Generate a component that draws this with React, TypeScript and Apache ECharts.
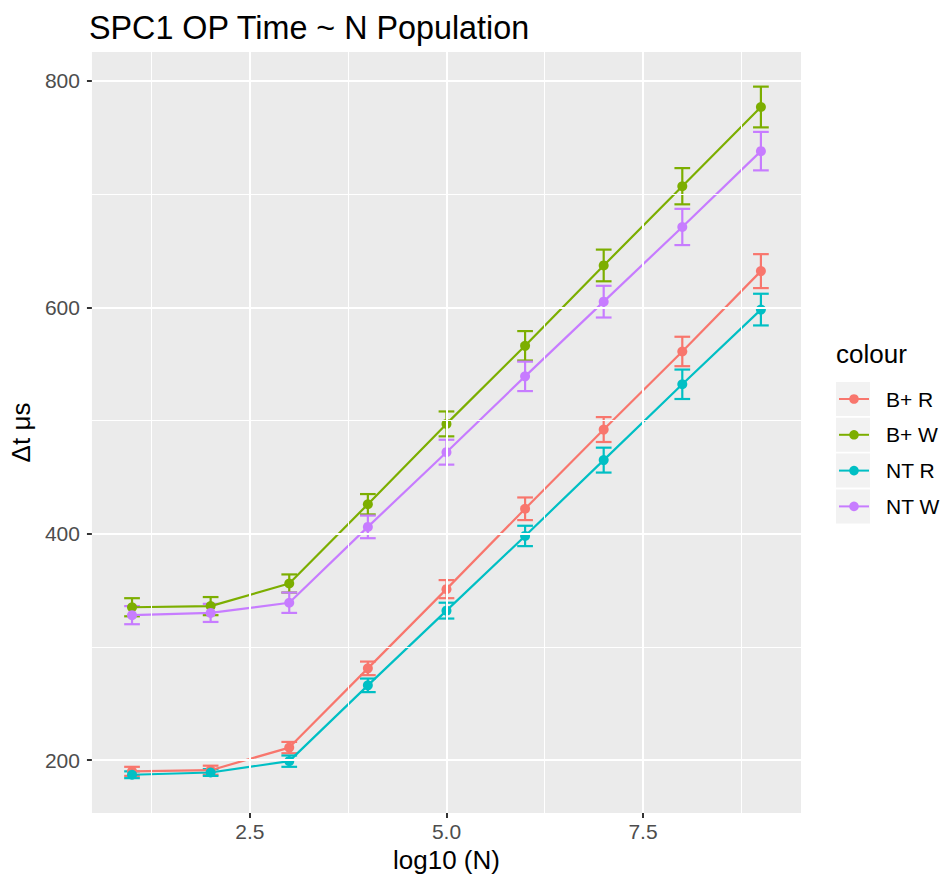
import React, { useEffect, useRef } from "react";
import * as echarts from "echarts";

// ---- data ----
const xValues = [1, 2, 3, 4, 5, 6, 7, 8, 9];
const seriesNames = ["B+ R", "B+ W", "NT R", "NT W"];
const bPlusR = [190, 191, 211, 281, 351, 422, 492, 561, 632];
const bPlusRErr = [4, 4, 5, 6, 8, 10, 11, 13, 15];
const bPlusW = [335, 336, 356, 426, 497, 566, 637, 707, 777];
const bPlusWErr = [8, 8, 8, 9, 11, 13, 14, 16, 18];
const ntR = [187, 189, 199, 266, 332, 398, 465, 532, 598];
const ntRErr = [3, 3, 5, 6, 7, 9, 11, 13, 14];
const ntW = [328, 330, 339, 406, 472, 539, 605, 671, 738];
const ntWErr = [8, 8, 9, 10, 11, 13, 14, 16, 17];
const xTicks = [2.5, 5, 7.5];
const xMinor = [1.25, 3.75, 6.25, 8.75];
const yTicks = [200, 400, 600, 800];
const yMinor = [300, 500, 700];

const colors = ["#F8766D", "#7CAE00", "#00BFC4", "#C77CFF"];
const FONT = "'Liberation Sans', Arial, Helvetica, sans-serif";

export default function App() {
  const ref = useRef<HTMLDivElement>(null);
  useEffect(() => {
    if (!ref.current) return;
    const chart = echarts.init(ref.current, null, { renderer: "svg" });
    const values = [bPlusR, bPlusW, ntR, ntW];
    const errs = [bPlusRErr, bPlusWErr, ntRErr, ntWErr];
    const ERR_W = 0.2;

    const lineSeries = seriesNames.map((name, i) => ({
      name,
      type: "line",
      data: xValues.map((x, j) => [x, values[i][j]]),
      symbol: "circle",
      symbolSize: 10,
      showSymbol: true,
      color: colors[i],
      itemStyle: { color: colors[i] },
      lineStyle: { color: colors[i], width: 2.2 },
      z: 4,
      silent: true,
    }));

    const errSeries = seriesNames.map((name, i) => ({
      name: name + " (error)",
      type: "custom",
      color: colors[i],
      data: xValues.map((x, j) => [x, values[i][j] - errs[i][j], values[i][j] + errs[i][j]]),
      renderItem: (params: any, api: any) => {
        const x = api.value(0);
        const lo = api.value(1);
        const hi = api.value(2);
        const top = api.coord([x, hi]);
        const bot = api.coord([x, lo]);
        const hw = api.size([ERR_W, 0])[0] / 2;
        const style = { stroke: colors[i], lineWidth: 2.2, fill: "none" };
        return {
          type: "group",
          children: [
            { type: "line", shape: { x1: top[0], y1: top[1], x2: bot[0], y2: bot[1] }, style },
            { type: "line", shape: { x1: top[0] - hw, y1: top[1], x2: top[0] + hw, y2: top[1] }, style },
            { type: "line", shape: { x1: bot[0] - hw, y1: bot[1], x2: bot[0] + hw, y2: bot[1] }, style },
          ],
        };
      },
      z: 3,
      silent: true,
    }));

    const gridSeries = {
      name: "panel grid",
      type: "line",
      data: [],
      silent: true,
      z: 1,
      markLine: {
        silent: true,
        symbol: "none",
        label: { show: false },
        animation: false,
        lineStyle: { color: "#FFFFFF", width: 2, type: "solid" },
        data: [
          ...xMinor.map((v) => ({ xAxis: v, lineStyle: { color: "#FFFFFF", width: 1, type: "solid" } })),
          ...yMinor.map((v) => ({ yAxis: v, lineStyle: { color: "#FFFFFF", width: 1, type: "solid" } })),
          ...xTicks.map((v) => ({ xAxis: v })),
          ...yTicks.map((v) => ({ yAxis: v })),
        ],
      },
    };

    chart.setOption({
      animation: false,
      backgroundColor: "#FFFFFF",
      textStyle: { fontFamily: FONT },
      title: {
        text: "SPC1 OP Time ~ N Population",
        left: 89,
        top: 12,
        padding: 0,
        textStyle: { fontSize: 32.3, fontWeight: "normal", color: "#000000", fontFamily: FONT },
      },
      grid: {
        left: 89,
        top: 52,
        width: 712,
        height: 761,
        show: true,
        backgroundColor: "#EBEBEB",
        borderWidth: 0,
        containLabel: false,
      },
      xAxis: {
        type: "value",
        min: 0.49,
        max: 9.51,
        name: "log10 (N)",
        nameLocation: "middle",
        nameGap: 32,
        nameTextStyle: { fontSize: 26, color: "#000000", fontFamily: FONT },
        axisLine: { show: false },
        axisTick: { show: true, length: 5, lineStyle: { color: "#333333", width: 2 }, customValues: xTicks },
        axisLabel: {
          show: true,
          margin: 8,
          fontSize: 21,
          color: "#4D4D4D",
          fontFamily: FONT,
          customValues: xTicks,
          formatter: (v: number) => v.toFixed(1),
        },
        splitLine: { show: false },
      },
      yAxis: {
        type: "value",
        min: 153.2,
        max: 825.6,
        name: "Δt μs",
        nameLocation: "middle",
        nameRotate: 90,
        nameGap: 49,
        nameTextStyle: { fontSize: 26, color: "#000000", fontFamily: FONT },
        axisLine: { show: false },
        axisTick: { show: true, length: 5, lineStyle: { color: "#333333", width: 2 }, customValues: yTicks },
        axisLabel: {
          show: true,
          margin: 12,
          fontSize: 21,
          color: "#4D4D4D",
          fontFamily: FONT,
          customValues: yTicks,
        },
        splitLine: { show: false },
      },
      legend: {
        data: seriesNames,
        orient: "vertical",
        left: 838,
        top: 388.5,
        itemWidth: 30,
        itemHeight: 12,
        itemGap: 14.8,
        padding: 0,
        selectedMode: false,
        z: 5,
        formatter: (n: string) => `{t|${n}}`,
        textStyle: {
          fontSize: 21,
          lineHeight: 21,
          color: "#000000",
          fontFamily: FONT,
          rich: {
            t: {
              fontSize: 21,
              lineHeight: 21,
              color: "#000000",
              fontFamily: FONT,
              padding: [0, 0, 0, 12],
            },
          },
        },
      },
      graphic: [
        {
          type: "text",
          left: 836,
          top: 341,
          z: 5,
          style: { text: "colour", fontSize: 26, fill: "#000000", fontFamily: FONT },
        },
        ...seriesNames.map((_, i) => ({
          type: "rect",
          shape: { x: 836, y: 382 + i * 35.8, width: 34, height: 34 },
          style: { fill: "#F2F2F2" },
          z: 0,
        })),
      ],
      series: [gridSeries, ...errSeries, ...lineSeries],
    });
    return () => chart.dispose();
  }, []);
  return (
    <div
      ref={ref}
      style={{ position: "fixed", left: 0, top: 0, width: 943, height: 878 }}
    />
  );
}
